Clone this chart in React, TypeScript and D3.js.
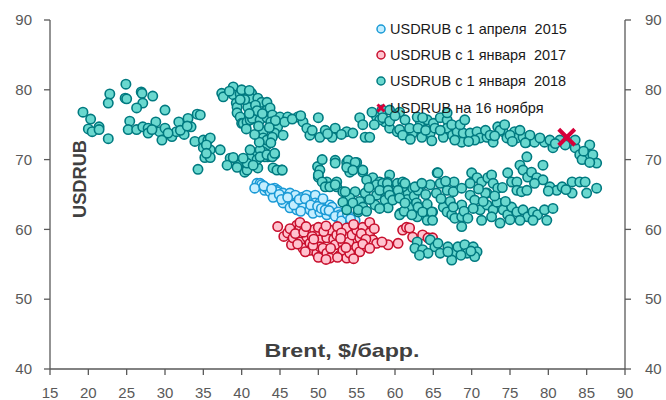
import React from 'react';
import * as d3 from 'd3';

// Brent ($/барр.) vs USDRUB
const usdrub2015: [number, number][] = [
  [42.0, 66.6], [42.4, 66.6], [42.6, 66.4], [43.0, 65.6], [43.3, 65.9], [41.7, 65.9], [43.7, 65.4],
  [44.3, 65.9], [44.7, 65.6], [44.6, 65.4], [45.0, 64.9], [44.1, 64.6], [45.4, 65.2], [45.6, 64.6],
  [46.3, 65.2], [46.6, 64.5], [45.9, 63.8], [45.4, 63.8], [46.3, 63.1], [47.0, 64.9], [47.2, 63.9],
  [47.9, 64.6], [47.9, 63.8], [48.2, 63.9], [48.5, 64.9], [48.6, 63.9], [49.1, 64.2], [49.6, 64.9],
  [49.6, 63.8], [50.2, 63.8], [50.6, 63.8], [47.2, 62.8], [48.0, 63.1], [48.9, 62.8], [49.3, 62.3],
  [50.2, 62.5], [51.1, 62.1], [51.5, 63.5], [51.8, 63.2], [51.9, 62.3], [52.6, 62.5], [52.6, 61.6],
  [52.8, 62.1], [53.5, 61.3], [53.9, 61.6], [54.4, 61.0], [54.8, 61.3],
  [42.9, 66.2], [43.9, 65.8], [44.9, 65.0], [45.2, 64.3], [46.0, 64.6], [46.8, 63.5], [47.5, 64.3],
  [48.3, 64.4], [49.0, 63.5], [49.9, 63.3], [50.4, 63.0], [50.9, 62.8], [51.4, 62.7], [52.2, 61.9],
  [53.1, 62.0], [53.0, 61.2], [53.8, 62.2], [54.2, 61.5], [50.6, 64.4], [47.7, 62.6],
];

const usdrub2017: [number, number][] = [
  [44.7, 60.4], [45.5, 59.0], [46.0, 59.5], [46.5, 57.8], [47.2, 60.6], [47.6, 60.2], [47.6, 61.0],
  [46.7, 58.8], [47.6, 58.2], [48.0, 57.3], [48.5, 58.9], [48.9, 58.0], [48.9, 57.0], [49.5, 60.0],
  [49.8, 59.2], [49.8, 56.6], [50.2, 58.5], [50.2, 57.5], [50.6, 57.3], [51.1, 58.8], [51.1, 56.6],
  [51.5, 59.9], [51.5, 55.9], [52.0, 58.6], [52.4, 59.2], [52.2, 57.8], [52.8, 56.3], [53.2, 58.0],
  [53.2, 57.0], [53.7, 60.2], [53.7, 55.9], [54.0, 58.2], [54.1, 56.6], [54.4, 59.2], [55.0, 59.9],
  [55.0, 57.5], [55.4, 58.8], [55.4, 56.8], [55.8, 60.3], [56.3, 57.5], [56.7, 61.0], [56.7, 59.5],
  [57.1, 58.5], [57.6, 58.0], [59.1, 57.8], [60.4, 58.0], [61.0, 59.9], [61.5, 60.3], [61.9, 60.2],
  [62.3, 58.9], [63.6, 59.2], [64.3, 58.8], [64.9, 58.8],
  [46.3, 60.1], [47.0, 59.4], [48.1, 59.6], [48.4, 60.4], [49.2, 59.0], [50.0, 60.3], [50.7, 59.7],
  [51.0, 60.5], [52.5, 60.4], [53.0, 59.5], [54.6, 60.7], [55.6, 59.4], [56.2, 58.6], [57.3, 60.1],
  [47.3, 57.9], [49.3, 57.7], [50.0, 56.0], [51.6, 57.3], [52.5, 56.0], [53.6, 57.4], [54.6, 55.8],
  [55.8, 57.9], [56.7, 57.3], [58.3, 58.2], [51.0, 55.7], [49.4, 58.6], [52.9, 58.7], [48.3, 56.8],
];

const usdrub2018: [number, number][] = [
  // январь-март
  [19.3, 76.8], [20.3, 75.8], [20.0, 74.4], [20.5, 74.0], [21.4, 74.7], [21.4, 74.3], [22.6, 73.0],
  [22.8, 79.4], [22.6, 78.1], [24.9, 80.8], [24.8, 78.8], [25.0, 78.7], [26.9, 79.7], [27.0, 79.5],
  [27.1, 78.1], [28.4, 79.1], [26.3, 77.4], [30.0, 77.1], [25.4, 75.5], [25.2, 74.3], [26.3, 74.3],
  [27.1, 74.7], [27.8, 74.5], [27.8, 73.8], [28.8, 75.4], [29.3, 74.0], [29.6, 72.8], [30.0, 74.5],
  [30.9, 73.3], [31.5, 74.0], [31.8, 75.4], [32.5, 73.6], [33.0, 75.9], [33.4, 74.7], [34.2, 76.5],
  [33.9, 72.6], [34.3, 68.6], [35.0, 72.8], [35.6, 72.8], [35.0, 71.7], [35.9, 71.4], [35.2, 70.3],
  [35.9, 70.3], [37.2, 71.4], [34.6, 76.4], [35.9, 73.1], [35.4, 72.1], [35.4, 70.9],
  [28.3, 74.3], [30.4, 73.8], [32.0, 74.2], [32.9, 74.8],
  // 37-46
  [37.4, 79.5], [37.6, 79.0], [38.9, 80.4], [38.9, 79.3], [39.8, 79.4], [39.3, 78.1], [39.4, 77.5],
  [41.3, 79.5], [41.2, 78.8], [42.1, 78.8], [42.6, 78.2], [43.4, 77.4], [43.3, 78.2], [40.8, 77.5],
  [39.4, 76.7], [39.8, 76.1], [40.0, 75.2], [40.2, 75.2], [40.7, 75.4], [41.1, 75.7], [41.4, 75.9],
  [42.4, 75.7], [43.3, 76.0], [43.3, 77.1], [43.7, 77.4], [44.0, 76.4], [45.0, 76.1], [46.0, 76.1],
  [44.7, 74.7], [45.6, 75.4], [44.3, 73.8], [45.4, 73.5], [42.8, 74.0], [42.8, 73.1], [43.3, 72.1],
  [42.8, 71.1], [43.4, 70.4], [44.3, 70.7], [41.5, 70.9], [41.1, 70.2], [40.2, 69.7], [39.5, 69.2],
  [38.5, 70.2], [38.1, 69.2], [40.4, 68.2], [42.1, 68.8], [45.2, 68.5], [38.9, 70.3], [39.4, 68.9],
  [40.7, 68.5], [42.0, 70.0], [41.1, 71.4], [42.4, 71.4], [43.3, 72.8], [43.0, 70.4], [44.1, 68.8],
  [44.6, 68.5], [40.7, 69.5], [41.5, 69.2], [40.2, 70.2], [42.4, 70.4], [43.3, 70.7], [44.0, 70.4],
  [44.3, 70.9], [45.3, 68.5],
  [40.4, 78.6], [41.8, 77.8], [42.0, 77.0], [41.0, 76.6], [42.7, 76.6], [43.8, 75.4], [44.4, 75.6],
  [43.6, 74.6], [44.0, 73.2], [43.8, 72.4], [42.3, 72.5], [41.7, 73.6], [42.2, 74.8], [40.6, 74.4],
  [39.8, 78.6], [38.4, 79.8], [40.0, 80.0], [41.0, 79.9],
  // 46-60, верх
  [47.3, 76.1], [48.0, 75.4], [48.5, 74.5], [48.9, 73.5], [50.0, 76.0], [50.2, 73.2], [50.9, 74.2],
  [51.8, 73.2], [52.2, 74.5], [53.7, 74.0], [54.5, 73.8], [55.4, 76.0], [55.8, 75.0], [56.1, 73.2],
  [56.7, 73.2], [57.6, 76.1], [58.3, 77.1], [58.7, 75.4], [59.3, 74.5], [60.3, 74.0],
  [46.6, 75.8], [47.7, 76.3], [49.2, 74.2], [51.2, 73.7], [53.0, 73.6], [57.0, 76.8], [58.0, 75.7],
  [59.3, 77.1], [60.6, 76.8], [57.3, 75.0],
  // 49-62, середина
  [49.9, 69.0], [50.5, 70.0], [52.2, 69.9], [52.2, 69.5], [53.7, 69.6], [55.0, 69.6], [55.8, 68.2],
  [50.0, 67.5], [51.1, 66.8], [52.4, 66.8], [54.1, 68.2], [57.1, 67.4], [58.0, 66.8], [59.3, 67.8],
  [50.2, 68.5], [50.0, 67.8], [50.5, 66.8], [50.9, 66.1], [51.5, 66.1], [52.4, 66.1], [53.9, 69.9],
  [54.8, 69.6], [53.7, 68.9], [54.5, 68.5], [53.2, 65.4], [54.8, 65.4], [56.3, 67.1], [55.8, 68.5],
  [57.6, 66.4], [59.0, 66.8], [60.3, 66.6], [61.0, 66.8], [59.0, 65.2], [60.0, 64.5], [60.7, 62.3],
  [55.4, 64.0], [54.1, 63.8], [55.2, 62.5], [54.1, 64.5], [61.7, 65.2], [52.2, 66.4], [53.5, 65.4],
  [56.1, 65.2], [57.6, 64.9], [58.4, 66.6], [59.1, 66.1], [61.0, 66.1], [62.3, 65.9], [63.5, 66.4],
  [64.6, 66.4], [65.5, 68.1], [53.2, 63.9], [54.5, 63.8], [55.8, 63.2], [57.4, 63.5], [58.7, 64.2],
  [59.7, 64.5], [59.1, 63.1], [60.6, 62.1], [61.9, 63.2], [63.2, 62.8], [62.9, 61.8], [64.2, 61.3],
  [64.9, 62.5], [55.2, 62.8], [53.7, 62.8],
  [56.6, 66.0], [58.0, 65.6], [56.7, 64.3], [58.0, 63.0], [60.4, 65.6], [61.6, 64.3], [62.5, 64.8],
  [63.0, 65.6], [64.0, 65.0], [62.8, 63.8], [64.2, 63.6], [65.4, 65.2], [61.2, 62.6], [56.3, 62.6],
  // 58-87, верхняя полоса
  [58.4, 76.0], [59.3, 75.5], [60.6, 74.3], [61.0, 73.5], [62.3, 73.8], [63.5, 73.2], [63.3, 75.4],
  [64.2, 75.7], [65.0, 75.2], [64.6, 73.8], [65.9, 76.0], [66.8, 75.7], [66.8, 74.5], [66.3, 73.2],
  [67.5, 73.5], [68.1, 74.0], [68.9, 73.8], [68.7, 72.5], [69.8, 73.8], [70.7, 74.0], [71.1, 73.1],
  [72.0, 73.2], [72.8, 72.5], [73.4, 74.7], [74.1, 74.0], [74.6, 73.1], [75.6, 74.0], [75.9, 73.1],
  [76.7, 73.2], [77.2, 72.5], [78.2, 72.5], [79.5, 72.5], [80.6, 71.7], [81.5, 72.8], [82.8, 72.4],
  [83.5, 71.7], [84.1, 70.7], [85.0, 70.7], [84.4, 70.0], [85.8, 70.7], [86.3, 69.5], [85.4, 69.6],
  [62.9, 76.1], [63.6, 76.0], [66.8, 76.7],
  [60.0, 76.3], [61.3, 75.7], [61.9, 74.5], [63.0, 74.5], [64.0, 74.2], [65.2, 74.5], [65.9, 74.2],
  [67.4, 75.0], [68.5, 75.0], [69.1, 75.7], [67.8, 72.8], [70.4, 72.8], [71.8, 74.2], [72.4, 73.5],
  [73.7, 74.2], [74.3, 75.0], [75.0, 73.5], [76.3, 74.2], [77.6, 73.5], [78.9, 73.1], [77.0, 72.4],
  [80.2, 72.8], [82.2, 72.1], [83.5, 72.8], [85.4, 72.1], [62.0, 72.9], [64.8, 72.7], [69.6, 72.6],
  [73.0, 73.4], [75.3, 72.6], [80.9, 72.3], [84.6, 71.2],
  // 59-87, средняя полоса
  [59.0, 66.6], [61.3, 66.6], [62.6, 66.1], [63.5, 66.6], [65.6, 68.1], [65.9, 66.6], [66.8, 65.6],
  [67.6, 65.4], [68.7, 65.9], [70.0, 68.1], [70.7, 67.4], [71.3, 66.8], [72.1, 67.4], [72.6, 67.8],
  [72.8, 66.6], [72.0, 65.2], [73.4, 65.9], [74.7, 68.1], [75.2, 66.8], [75.9, 66.8], [76.3, 69.2],
  [77.2, 70.4], [76.7, 68.5], [77.3, 67.5], [77.8, 68.2], [78.5, 67.4], [79.3, 69.2], [79.3, 67.1],
  [80.2, 66.1], [81.1, 65.6], [81.8, 66.1], [83.1, 66.8], [83.1, 65.2], [84.1, 66.8], [84.8, 66.8],
  [85.0, 65.2], [86.3, 65.9], [75.9, 65.6], [76.5, 65.4], [77.2, 65.6], [59.1, 65.6], [59.3, 64.9],
  [59.7, 64.2], [60.6, 64.5], [61.3, 63.8], [62.2, 62.1], [63.0, 63.2], [63.6, 62.5], [64.8, 62.5],
  [64.9, 61.3], [66.3, 63.2], [66.8, 62.5], [67.4, 62.1], [67.8, 61.6], [68.7, 61.8], [68.7, 60.4],
  [71.1, 62.8], [71.3, 61.3], [72.0, 63.5], [72.8, 62.8], [73.7, 60.9], [73.3, 63.9], [74.1, 62.8],
  [74.7, 62.1], [75.2, 63.2], [75.9, 62.5], [76.7, 62.8], [77.3, 61.8], [78.0, 62.5], [78.6, 62.1],
  [79.5, 62.8], [79.8, 61.3], [78.0, 61.3], [76.3, 61.3], [69.8, 64.9], [70.4, 64.2], [71.8, 65.2],
  [68.7, 63.5],
  [66.0, 64.4], [67.2, 64.0], [67.6, 63.2], [69.0, 62.6], [70.2, 63.0], [69.5, 61.6], [70.9, 65.8],
  [71.5, 64.0], [73.0, 64.8], [74.0, 66.0], [74.4, 64.0], [72.6, 61.8], [69.8, 66.6], [67.7, 66.8],
  [66.6, 66.9], [78.2, 66.6], [80.0, 65.5], [82.3, 65.7], [80.6, 63.0], [75.0, 61.4],
  // 62-71, низ
  [62.9, 58.2], [62.6, 57.3], [63.6, 57.1], [64.6, 58.5], [65.2, 57.5], [65.9, 56.6], [66.9, 57.5],
  [67.6, 56.6], [68.2, 57.5], [69.1, 57.8], [69.4, 56.6], [70.2, 57.5], [70.7, 56.8], [70.4, 56.1],
  [67.4, 55.6], [64.3, 56.6], [63.2, 56.3], [66.9, 56.8], [68.6, 56.3], [65.6, 58.0], [69.9, 56.9],
];

const nov16: [number, number] = [82.4, 73.2];

const xTicks = [15, 20, 25, 30, 35, 40, 45, 50, 55, 60, 65, 70, 75, 80, 85, 90];
const yTicks = [40, 50, 60, 70, 80, 90];

const legendLabels = [
  'USDRUB с 1 апреля  2015',
  'USDRUB с 1 января  2017',
  'USDRUB с 1 января  2018',
  'USDRUB на 16 ноября',
];

const blue = { fill: '#c4eeff', stroke: '#1a9ad6' };
const red = { fill: '#ffc3cf', stroke: '#c8102e' };
const teal = { fill: '#6ad8cf', stroke: '#007a80' };
const cross = '#d6003a';

const W = 666;
const H = 400;
const margin = { left: 50, right: 41, top: 20, bottom: 31 };
const sans = 'Liberation Sans, Arial, sans-serif';

export default function App() {
  const x = d3.scaleLinear().domain([15, 90]).range([margin.left, W - margin.right]);
  const y = d3.scaleLinear().domain([40, 90]).range([H - margin.bottom, margin.top]);
  const x0 = x(15);
  const x1 = x(90);
  const yb = y(40);
  const axisColor = '#595959';
  const tickFont = { fontFamily: sans, fontSize: 15, fill: '#595959' };

  const dots = (pts: [number, number][], c: { fill: string; stroke: string }, key: string) =>
    pts.map((d, i) => (
      <circle key={key + i} cx={x(d[0])} cy={y(d[1])} r={4.7} fill={c.fill} stroke={c.stroke} strokeWidth={1.6} />
    ));

  const crossPath = (cx: number, cy: number, s: number) =>
    `M${cx - s},${cy - s}L${cx + s},${cy + s}M${cx - s},${cy + s}L${cx + s},${cy - s}`;

  const legendX = 381;
  const legendY = [29, 55, 81, 108];
  const legendColors = [blue, red, teal];

  return (
    <svg width={W} height={H} style={{ position: 'absolute', left: 0, top: 0, background: '#fff' }}>
      {/* axes */}
      <line x1={x0} x2={x0} y1={y(90)} y2={yb} stroke={axisColor} strokeWidth={1.3} />
      <line x1={x1} x2={x1} y1={y(90)} y2={yb} stroke={axisColor} strokeWidth={1.3} />
      <line x1={x0} x2={x1} y1={yb} y2={yb} stroke={axisColor} strokeWidth={1.3} />
      {yTicks.map(t => (
        <g key={'y' + t}>
          <line x1={x0 - 6} x2={x0} y1={y(t)} y2={y(t)} stroke={axisColor} strokeWidth={1.3} />
          <line x1={x1} x2={x1 + 6} y1={y(t)} y2={y(t)} stroke={axisColor} strokeWidth={1.3} />
          <text x={32} y={y(t)} dy="0.35em" textAnchor="end" {...tickFont}>{t}</text>
          <text x={645} y={y(t)} dy="0.35em" textAnchor="start" {...tickFont}>{t}</text>
        </g>
      ))}
      {xTicks.map(t => (
        <g key={'x' + t}>
          <line x1={x(t)} x2={x(t)} y1={yb} y2={yb + 6} stroke={axisColor} strokeWidth={1.3} />
          <text x={x(t)} y={393} dy="0.35em" textAnchor="middle" {...tickFont}>{t}</text>
        </g>
      ))}

      {/* series */}
      {dots(usdrub2015, blue, 'b')}
      {dots(usdrub2017, red, 'r')}
      {dots(usdrub2018, teal, 't')}
      <path d={crossPath(x(nov16[0]), y(nov16[1]), 8)} stroke={cross} strokeWidth={4} fill="none" />

      {/* axis titles */}
      <text
        transform={`translate(86,179) rotate(-90)`}
        textAnchor="middle"
        textLength={78}
        lengthAdjust="spacingAndGlyphs"
        style={{ fontFamily: sans, fontSize: 19, fontWeight: 'bold', fill: '#404040' }}
      >
        USDRUB
      </text>
      <text
        x={342}
        y={357}
        textAnchor="middle"
        textLength={155}
        lengthAdjust="spacingAndGlyphs"
        style={{ fontFamily: sans, fontSize: 19, fontWeight: 'bold', fill: '#404040' }}
      >
        Brent, $/барр.
      </text>

      {/* legend */}
      {legendLabels.map((l, i) => (
        <g key={'l' + i}>
          {i < 3 ? (
            <circle cx={legendX} cy={legendY[i]} r={4} fill={legendColors[i].fill} stroke={legendColors[i].stroke} strokeWidth={1.5} />
          ) : (
            <path d={crossPath(legendX, legendY[i], 3.5)} stroke={cross} strokeWidth={3} fill="none" />
          )}
          <text
            x={legendX + 9}
            y={legendY[i]}
            dy="0.35em"
            style={{ fontFamily: sans, fontSize: 14.5, fill: '#1a1a1a', whiteSpace: 'pre' }}
          >
            {l}
          </text>
        </g>
      ))}
    </svg>
  );
}
